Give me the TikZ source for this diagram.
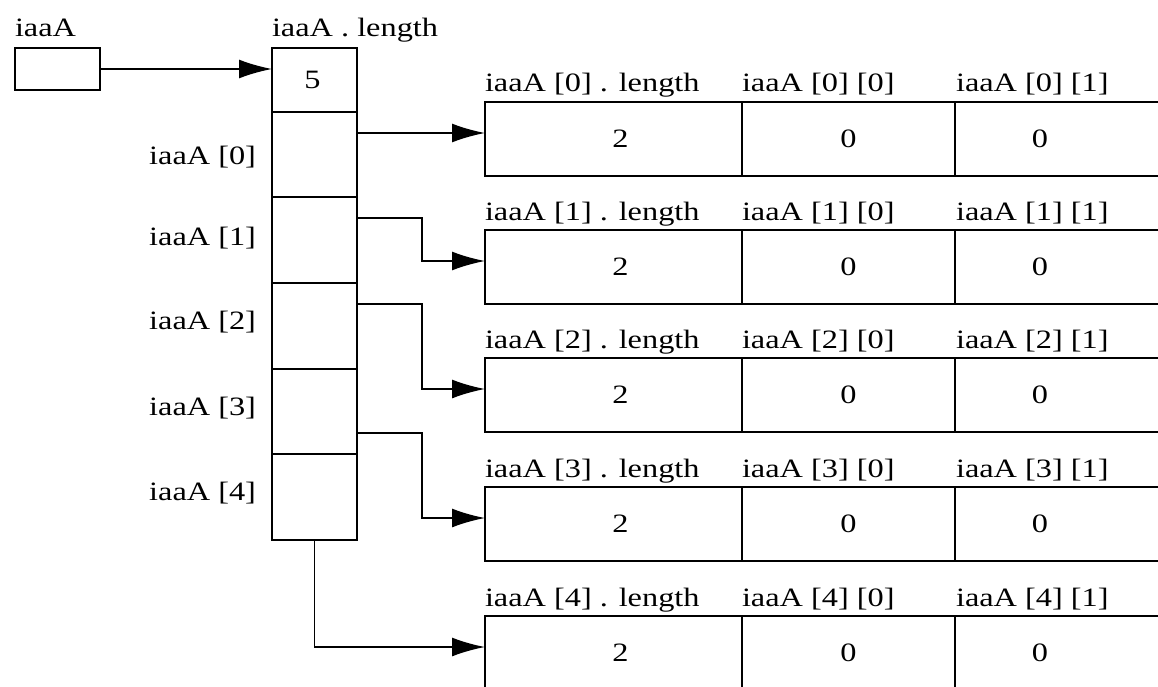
\documentclass[tikz,border=0pt]{standalone}
\usepackage{fontspec}
\setmainfont{Liberation Serif}[FakeStretch=1.22]
\usetikzlibrary{arrows.meta,calc}
\begin{document}
\begin{tikzpicture}[x=1pt,y=-1pt,
  font=\fontsize{26.5}{30}\selectfont,
  box/.style={draw, line width=1.8pt, inner sep=0pt, outer sep=0pt, anchor=north west},
  plain/.style={inner sep=0pt, outer sep=0pt, anchor=north west},
  lbl/.style={inner sep=0pt, outer sep=0pt},
  link/.style={line width=1.8pt},
  arr/.style={line width=1.8pt, -{Latex[length=33pt,width=19pt]}}]
\clip (0,0) rectangle (1158,687);
% pointer variable
\node[box, minimum width=85pt, minimum height=42pt] (p) at (15,48) {};
\node[lbl, anchor=base west] (lp) at (15,37) {iaaA};
% outer array
\node[box, minimum width=85pt, minimum height=64pt] (c0) at (272,48) {\hspace*{-4pt}5};
\node[lbl, anchor=base west] (lc) at (272,37) {iaaA . length};
\node[box, minimum width=85pt, minimum height=85pt] (c1) at (272,112) {};
\node[box, minimum width=85pt, minimum height=86pt] (c2) at (272,197) {};
\node[box, minimum width=85pt, minimum height=86pt] (c3) at (272,283) {};
\node[box, minimum width=85pt, minimum height=85pt] (c4) at (272,369) {};
\node[box, minimum width=85pt, minimum height=86pt] (c5) at (272,454) {};
\node[lbl, anchor=base east] (l0) at ($(c1.north west)+(-16,53)$) {iaaA [0]};
\node[lbl, anchor=base east] (l1) at ($(c2.north west)+(-16,48)$) {iaaA [1]};
\node[lbl, anchor=base east] (l2) at ($(c3.north west)+(-16,46)$) {iaaA [2]};
\node[lbl, anchor=base east] (l3) at ($(c4.north west)+(-16,46)$) {iaaA [3]};
\node[lbl, anchor=base east] (l4) at ($(c5.north west)+(-16,46)$) {iaaA [4]};
% inner arrays
\foreach \k/\t in {0/102,1/230,2/358,3/487,4/616}{
  \node[box, minimum width=257pt, minimum height=74pt] (r\k a) at (485,\t) {\hspace*{14pt}2};
  \node[box, minimum width=213pt, minimum height=74pt] (r\k b) at (742,\t) {0};
  \node[plain, minimum width=170pt, minimum height=74pt] (r\k c) at (955,\t) {0};
  \draw[link] (r\k c.north west) -- ++(240,0);
  \draw[link] (r\k c.south west) -- ++(240,0);
  \node[lbl, anchor=base west] (la\k) at ($(r\k a.north west)+(0,-10)$) {iaaA [\k] . length};
  \node[lbl, anchor=base west] (lb\k) at ($(r\k b.north west)+(0,-10)$) {iaaA [\k] [0]};
  \node[lbl, anchor=base west] (lcc\k) at ($(r\k c.north west)+(1,-10)$) {iaaA [\k] [1]};
  \coordinate (t\k) at ($(r\k a.north west)+(0,31)$);
}
\coordinate (bend) at (422,0);
\coordinate (s1) at ($(c2.north east)+(0,21)$);
\coordinate (s2) at ($(c3.north east)+(0,21)$);
\coordinate (s3) at ($(c4.north east)+(0,64)$);
% connectors
\draw[arr] (p.east) -- (p.east -| c0.west);
\draw[arr] (c1.east |- t0) -- (t0);
\draw[arr] (s1) -- (s1 -| bend) |- (t1);
\draw[arr] (s2) -- (s2 -| bend) |- (t2);
\draw[arr] (s3) -- (s3 -| bend) |- (t3);
\draw[arr] (c5.south) |- (t4);
\end{tikzpicture}
\end{document}
